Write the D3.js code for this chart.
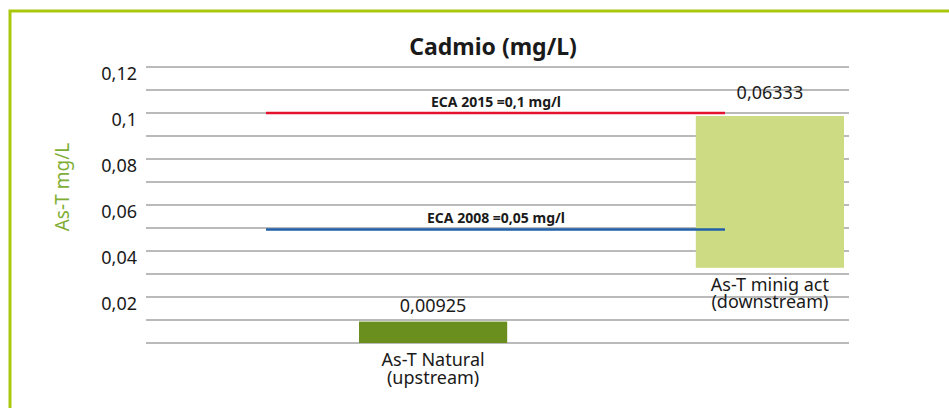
<!DOCTYPE html>
<html lang="es">
<head>
<meta charset="UTF-8">
<title>Cadmio (mg/L)</title>
<script src="https://d3js.org/d3.v7.min.js"></script>
<style>
  body { margin: 0; background: #fff; }
  svg text { font-family: "Noto Sans", "Open Sans", sans-serif; fill: #1a1a1a; }
</style>
</head>
<body>
<div id="chart"></div>
<script>
// data
const categories = ["As-T Natural\n(upstream)", "As-T minig act\n(downstream)"];
const barLow = [0, 0.0327];          // second bar floats in the original
const barHigh = [0.0093, 0.0987];
const valueLabels = ["0,00925", "0,06333"];
const yTicks = [0.02, 0.04, 0.06, 0.08, 0.1, 0.12];
const gridValues = d3.range(0, 0.1201, 0.01);
const limits = [
  { label: "ECA 2015 =0,1 mg/l", value: 0.1, color: "#e3132d" },
  { label: "ECA 2008 =0,05 mg/l", value: 0.0494, color: "#2160a8" }
];
const barColors = ["#6a8f1e", "#cddc82"];

const width = 949, height = 408;
const plot = { left: 146, right: 849, top: 67, bottom: 343 };

const svg = d3.select("#chart").append("svg")
  .attr("width", width)
  .attr("height", height);

// green frame (only top and left edges visible)
svg.append("path")
  .attr("d", `M10,${height} L10,11 L${width},11`)
  .attr("fill", "none")
  .attr("stroke", "#a9c80c")
  .attr("stroke-width", 3);

const y = d3.scaleLinear().domain([0, 0.12]).range([plot.bottom, plot.top]);
const x = d3.scaleBand().domain(categories).range([359, 844]).paddingInner(0.56);

// gridlines
svg.append("g").selectAll("line")
  .data(gridValues)
  .join("line")
  .attr("x1", plot.left).attr("x2", plot.right)
  .attr("y1", d => y(d)).attr("y2", d => y(d))
  .attr("stroke", "#a3a3a3")
  .attr("stroke-width", 1.3);

// y axis labels (sit a little below their lines in the original)
const yAxis = svg.append("g")
  .attr("transform", `translate(${plot.left - 9},0)`)
  .call(d3.axisLeft(y).tickValues(yTicks).tickSize(0).tickPadding(0)
    .tickFormat(d => d3.format(".2~f")(d).replace(".", ",")));
yAxis.select(".domain").remove();
yAxis.selectAll("text")
  .attr("dy", "0.72em")
  .style("font-size", "18px")
  .style("font-family", "\"Noto Sans\", sans-serif")
  .style("fill", "#1a1a1a");

// y axis title
svg.append("text")
  .attr("transform", "translate(62,187) rotate(-90)")
  .attr("text-anchor", "middle")
  .attr("dy", "0.35em")
  .style("font-size", "19px")
  .style("fill", "#7fae35")
  .text("As-T mg/L");

// title
svg.append("text")
  .attr("x", 493).attr("y", 47)
  .attr("text-anchor", "middle")
  .attr("dy", "0.35em")
  .style("font-size", "23px")
  .style("font-weight", "bold")
  .text("Cadmio (mg/L)");

// bars
svg.append("g").selectAll("rect")
  .data(categories)
  .join("rect")
  .attr("x", d => x(d))
  .attr("width", x.bandwidth())
  .attr("y", (d, i) => y(barHigh[i]))
  .attr("height", (d, i) => y(barLow[i]) - y(barHigh[i]))
  .attr("fill", (d, i) => barColors[i]);

// value labels
svg.append("g").selectAll("text")
  .data(categories)
  .join("text")
  .attr("x", d => x(d) + x.bandwidth() / 2)
  .attr("y", (d, i) => y(barHigh[i]) - (i === 0 ? 10 : 17))
  .attr("text-anchor", "middle")
  .style("font-size", "18px")
  .text((d, i) => valueLabels[i]);

// category labels under each bar
const cat = svg.append("g").selectAll("text")
  .data(categories)
  .join("text")
  .attr("x", d => x(d) + x.bandwidth() / 2)
  .attr("y", (d, i) => y(barLow[i]) + 23)
  .attr("text-anchor", "middle")
  .style("font-size", "18px");
cat.selectAll("tspan")
  .data(d => d.split("\n"))
  .join("tspan")
  .attr("x", function () { return this.parentNode.getAttribute("x"); })
  .attr("dy", (d, i) => i === 0 ? 0 : "0.98em")
  .text(d => d);

// limit lines
const lim = svg.append("g").selectAll("g")
  .data(limits)
  .join("g");
lim.append("line")
  .attr("x1", 266).attr("x2", 725)
  .attr("y1", d => y(d.value)).attr("y2", d => y(d.value))
  .attr("stroke", d => d.color)
  .attr("stroke-width", 2.5);
lim.append("text")
  .attr("x", 496)
  .attr("y", d => y(d.value) - 6)
  .attr("text-anchor", "middle")
  .style("font-size", "14px")
  .style("font-weight", "bold")
  .text(d => d.label);
</script>
</body>
</html>
